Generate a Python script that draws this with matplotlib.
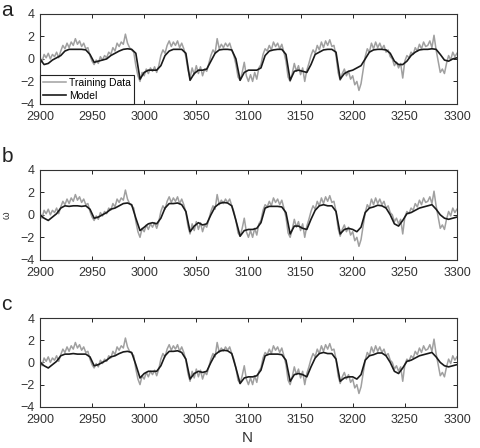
import numpy as np
import matplotlib
matplotlib.use('Agg')
import matplotlib.pyplot as plt

plt.rcParams['font.family'] = ['Liberation Sans', 'DejaVu Sans']

# sample index
n_train = np.arange(2900, 3301, 2)
n_model = np.arange(2900, 3301, 4)

training = [
    0.2, -0.3, 0.4, 0.1, 0.5, 0.0, 0.4, 0.2, 0.6, 0.1,
    0.7, 1.2, 0.9, 1.4, 1.0, 1.5, 1.2, 1.8, 1.3, 1.6,
    1.1, 1.4, 0.9, 1.0, 0.3, -0.2, -0.5, -0.1, -0.4, 0.2,
    -0.1, 0.3, 0.1, 0.6, 0.4, 1.0, 0.7, 1.4, 1.1, 1.5,
    1.3, 2.2, 1.4, 1.0, 0.8, 0.6, -0.6, -1.5, -2.0, -1.2,
    -1.5, -0.9, -1.3, -0.8, -1.1, -0.7, -1.2, -0.6, 0.3, 0.8,
    0.5, 1.2, 1.6, 1.1, 1.5, 1.2, 1.6, 1.0, 1.4, 0.9,
    0.2, -1.0, -1.7, -0.8, -1.4, -0.6, -1.3, -0.7, -1.5, -0.9,
    -1.1, -0.4, 0.3, 0.8, 0.5, 1.8, 0.9, 1.3, 1.0, 1.4,
    1.1, 1.4, 0.8, 0.3, -0.5, -1.6, -1.9, -1.2, -0.3, -1.5,
    -2.0, -1.4, -2.0, -1.2, -1.8, -0.8, -0.5, 0.4, 0.9, 0.7,
    1.2, 0.8, 1.5, 1.1, 1.4, 0.9, 1.3, 0.6, -0.2, -1.6,
    -2.0, -1.3, -0.4, -1.1, -0.6, -1.4, -0.8, -2.0, -1.0, -0.4,
    0.3, 0.8, 0.5, 1.2, 0.8, 1.5, 1.0, 1.6, 1.2, 1.7,
    1.1, 1.2, 0.3, -1.2, -1.9, -1.3, -0.9, -1.5, -1.1, -1.8,
    -1.5, -2.3, -2.0, -2.8, -2.2, -1.0, 0.2, 0.9, 0.6, 1.4,
    0.9, 1.5, 1.0, 1.4, 0.9, 1.2, 0.6, 0.8, 0.2, 0.0,
    -0.6, -0.3, -0.8, -0.4, -1.7, -0.2, 0.3, 0.1, 0.6, 0.4,
    1.0, 0.7, 1.3, 0.9, 1.5, 1.1, 1.2, 1.6, 1.0, 2.1,
    0.8, -0.2, -1.2, -0.9, -1.3, -0.4, 0.3, -0.1, 0.6, 0.2,
    0.5,
]

model_a = [
    0.0, -0.5, -0.4, -0.1, 0.1, 0.3, 0.7, 0.85, 0.85, 0.85,
    0.85, 0.8, 0.4, -0.3, -0.2, -0.1, 0.0, 0.3, 0.5, 0.7,
    0.85, 0.9, 0.85, 0.5, -1.8, -1.2, -1.0, -1.0, -1.0, -0.6,
    0.3, 0.7, 0.85, 0.85, 0.85, 0.5, -1.9, -1.3, -1.0, -1.0,
    -0.9, -0.2, 0.5, 0.8, 0.85, 0.85, 0.8, 0.0, -1.9, -1.2,
    -1.0, -1.0, -1.0, -0.8, 0.3, 0.7, 0.8, 0.85, 0.85, 0.4,
    -1.9, -1.1, -1.0, -1.1, -1.2, -0.5, 0.4, 0.6, 0.8, 0.85,
    0.85, 0.6, -1.8, -1.3, -1.1, -1.0, -0.8, -0.6, 0.0, 0.6,
    0.8, 0.85, 0.85, 0.8, 0.5, -0.2, -0.5, -0.5, -0.2, 0.3,
    0.6, 0.8, 0.85, 0.85, 0.9, 0.85, 0.4, -0.1, -0.2, 0.0,
    0.1,
]

model_b = [
    0.0, -0.3, -0.5, -0.2, 0.1, 0.6, 0.8, 0.75, 0.8, 0.8,
    0.75, 0.8, 0.5, -0.3, -0.2, 0.0, 0.2, 0.5, 0.6, 0.8,
    1.0, 1.05, 0.9, -0.3, -1.4, -1.1, -0.8, -0.7, -0.8, -0.3,
    0.6, 1.0, 1.0, 1.05, 0.9, 0.3, -1.5, -1.0, -0.7, -0.9,
    -0.8, 0.0, 0.7, 1.0, 1.1, 1.05, 0.8, -0.5, -1.9, -1.4,
    -1.3, -1.3, -1.2, -0.7, 0.6, 0.75, 0.75, 0.75, 0.7, 0.2,
    -1.7, -1.0, -1.0, -1.2, -1.3, -0.4, 0.4, 0.8, 0.9, 0.8,
    0.8, 0.3, -1.7, -1.3, -1.2, -1.3, -1.5, -1.1, 0.2, 0.6,
    0.7, 0.85, 0.8, 0.6, 0.0, -0.8, -1.0, -0.5, 0.1, 0.2,
    0.4, 0.6, 0.7, 0.8, 0.9, 0.5, 0.0, -0.3, -0.4, -0.3,
    -0.2,
]

model_c = [
    0.0, -0.3, -0.5, -0.2, 0.1, 0.6, 0.75, 0.75, 0.8, 0.75,
    0.75, 0.75, 0.5, -0.3, -0.2, 0.0, 0.2, 0.5, 0.6, 0.8,
    0.95, 1.0, 0.9, -0.2, -1.4, -1.0, -0.8, -0.8, -0.8, -0.3,
    0.6, 1.0, 1.0, 1.05, 0.9, 0.3, -1.5, -1.0, -0.8, -0.9,
    -0.8, 0.0, 0.7, 1.0, 1.1, 1.05, 0.8, -0.5, -1.9, -1.4,
    -1.3, -1.3, -1.2, -0.7, 0.6, 0.75, 0.75, 0.75, 0.7, 0.2,
    -1.7, -1.1, -1.0, -1.1, -1.3, -0.4, 0.4, 0.8, 0.9, 0.8,
    0.8, 0.3, -1.7, -1.4, -1.3, -1.3, -1.5, -1.1, 0.2, 0.6,
    0.7, 0.85, 0.85, 0.6, 0.0, -0.8, -1.0, -0.5, 0.1, 0.2,
    0.4, 0.6, 0.7, 0.8, 0.9, 0.5, 0.0, -0.3, -0.4, -0.3,
    -0.2,
]

models = [model_a, model_b, model_c]
panel_labels = ['a', 'b', 'c']
xticks = np.arange(2900, 3301, 50)
yticks = [-4, -2, 0, 2, 4]

fig = plt.figure(figsize=(4.81, 4.48), dpi=100)
# axes boxes in figure fractions (left, bottom, width, height)
boxes = [(0.083, 0.768, 0.867, 0.201),
         (0.083, 0.420, 0.867, 0.201),
         (0.083, 0.092, 0.867, 0.198)]
label_y = [0.998, 0.672, 0.342]

for i in range(3):
    ax = fig.add_axes(boxes[i])
    ax.plot(n_train, training, color='#a0a0a0', lw=1.1, label='Training Data')
    ax.plot(n_model, models[i], color='#1a1a1a', lw=1.2, label='Model')
    ax.set_xlim(2900, 3300)
    ax.set_ylim(-4, 4)
    ax.set_xticks(xticks)
    ax.set_yticks(yticks)
    ax.set_yticklabels(['\u22124', '\u22122', '0', '2', '4'])
    ax.tick_params(direction='in', top=True, right=True, length=3,
                   width=0.6, labelsize=9, labelcolor='#333333')
    ax.tick_params(axis='x', pad=5)
    ax.tick_params(axis='y', pad=4)
    for sp in ax.spines.values():
        sp.set_linewidth(0.8)
        sp.set_color('#333333')
    fig.text(0.003, label_y[i], panel_labels[i], fontsize=15, va='top',
             color='#222222')
    if i == 0:
        leg = ax.legend(loc='lower left', borderaxespad=0, fontsize=7.5,
                        fancybox=False, edgecolor='#222222', framealpha=1,
                        handlelength=2.2, handletextpad=0.3,
                        borderpad=0.3, labelspacing=0.3)
        leg.get_frame().set_linewidth(0.8)
    if i == 1:
        ax.set_ylabel('\u03c9', fontsize=7, labelpad=6, color='#333333')

fig.text(0.515, 0.013, 'N', fontsize=11, ha='center', color='#333333')

plt.savefig('out.png', dpi=100)
